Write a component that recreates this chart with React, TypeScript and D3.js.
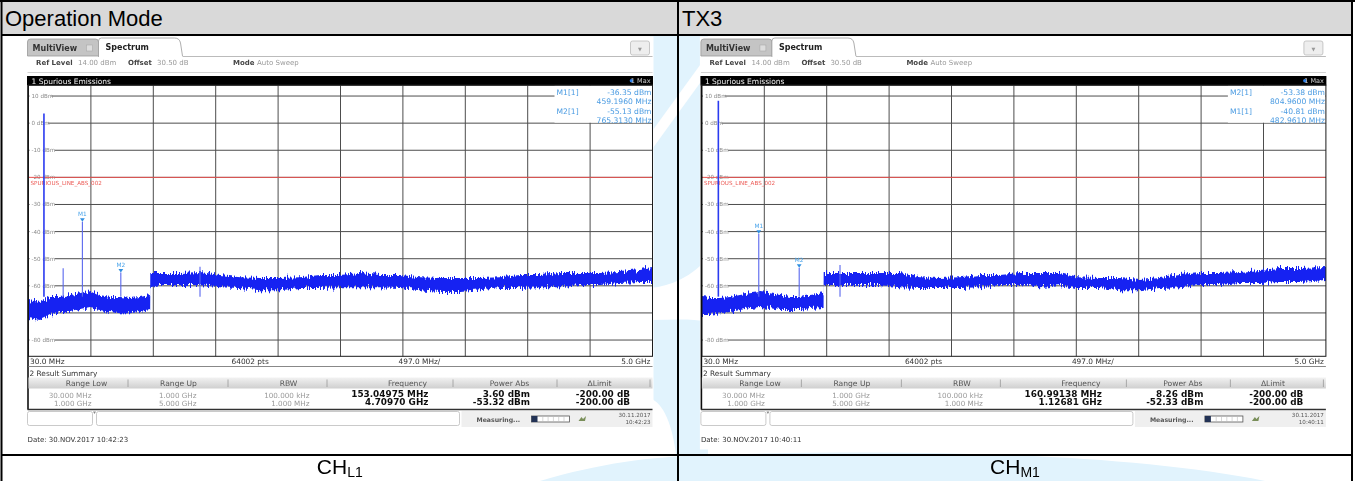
import React from 'react';
import * as d3 from 'd3';

const W = 1355;
const H = 481;

// ---- sweep settings shared by both measurements ----
const sweepStartMHz = 30;
const sweepStopMHz = 5000;
const sweepPoints = 64002;
const refLevelDbm = 14;
const bottomDbm = -86;
const xDivisions = 10;
const gridDbm = [10, 0, -10, -20, -30, -40, -50, -60, -70, -80];
const gridLabelDbm = [10, 0, -10, -20, -30, -40, -50, -60, -80];
const limitDbm = -20;
const limitName = 'SPURIOUS_LINE_ABS_002';
const summaryColumns = ['Range Low', 'Range Up', 'RBW', 'Frequency', 'Power Abs', 'ΔLimit'];

// ---- CH L1 trace envelope (MHz, dBm) ----
const chL1Freq = [30, 122, 201, 281, 361, 440, 520, 599, 679, 759, 838, 918, 999,
  1000, 1077, 1237, 1396, 1555, 1715, 1874, 2033, 2193, 2352, 2511, 2671, 2830, 2989, 3148,
  3308, 3467, 3626, 3786, 3945, 4104, 4264, 4423, 4582, 4741, 4900, 5000];
const chL1Upper = [-65.2, -66.0, -64.1, -64.1, -63.4, -62.7, -61.6, -63.4, -64.1, -64.1, -64.5, -64.1, -63.4,
  -55.3, -55.3, -55.3, -54.9, -56.0, -56.8, -57.1, -57.1, -56.8, -56.0, -56.0, -55.3, -56.0, -56.0, -56.8,
  -57.1, -57.1, -57.1, -56.8, -56.0, -56.0, -55.3, -55.3, -55.3, -54.9, -54.2, -53.4];
const chL1Lower = [-71.9, -72.6, -70.8, -69.7, -69.7, -68.9, -68.2, -68.9, -69.7, -70.1, -70.1, -69.7, -68.9,
  -60.5, -59.7, -59.7, -59.7, -60.5, -60.8, -61.6, -61.6, -60.8, -60.8, -60.5, -60.5, -60.5, -60.8, -61.6,
  -62.3, -62.3, -61.6, -60.8, -60.8, -60.5, -60.5, -59.7, -59.7, -59.0, -58.6, -58.6];
const chL1Spikes = [
  { f: 153.05, dbm: 3.6 },
  { f: 306, dbm: -53.5 },
  { f: 459.196, dbm: -36.35 },
  { f: 765.313, dbm: -55.13 },
  { f: 1396, dbm: -53.0 },
];
const chL1Markers = [
  { name: 'M1', f: 459.196, dbm: -36.35 },
  { name: 'M2', f: 765.313, dbm: -55.13 },
];
const chL1Readout = ['M1', 'M2'];
const chL1Summary = [
  ['30.000 MHz', '1.000 GHz', '100.000 kHz', '153.04975 MHz', '3.60 dBm', '-200.00 dB'],
  ['1.000 GHz', '5.000 GHz', '1.000 MHz', '4.70970 GHz', '-53.32 dBm', '-200.00 dB'],
];

// ---- CH M1 trace envelope (MHz, dBm) ----
const chM1Freq = [30, 95, 174, 254, 333, 413, 493, 572, 652, 732, 811, 891, 999,
  1000, 1130, 1288, 1447, 1606, 1766, 1925, 2084, 2244, 2403, 2562, 2721, 2881, 3008,
  3199, 3358, 3518, 3677, 3836, 3996, 4155, 4314, 4474, 4633, 4792, 5000];
const chM1Upper = [-64.1, -64.5, -64.5, -64.1, -63.4, -62.7, -62.3, -62.7, -63.4, -64.1, -64.1, -63.4, -62.7,
  -55.3, -55.3, -55.3, -55.3, -55.3, -56.8, -57.1, -56.8, -56.0, -56.0, -55.3, -55.3, -55.3, -56.8,
  -57.1, -57.1, -57.9, -57.1, -56.0, -55.3, -55.3, -54.9, -54.2, -53.4, -53.4, -53.1];
const chM1Lower = [-70.8, -70.8, -70.1, -69.7, -68.9, -68.2, -67.8, -68.2, -68.9, -68.9, -68.9, -68.2, -67.8,
  -59.7, -59.7, -59.7, -59.7, -60.5, -60.8, -60.8, -60.8, -60.5, -59.7, -59.7, -60.5, -59.7, -60.8,
  -60.8, -61.6, -61.6, -60.8, -60.5, -59.7, -59.7, -59.0, -59.0, -58.6, -58.6, -57.9];
const chM1Spikes = [
  { f: 160.99, dbm: 8.26 },
  { f: 482.961, dbm: -40.81 },
  { f: 804.96, dbm: -53.38 },
  { f: 1130, dbm: -52.3 },
];
const chM1Markers = [
  { name: 'M1', f: 482.961, dbm: -40.81 },
  { name: 'M2', f: 804.96, dbm: -53.38 },
];
const chM1Readout = ['M2', 'M1'];
const chM1Summary = [
  ['30.000 MHz', '1.000 GHz', '100.000 kHz', '160.99138 MHz', '8.26 dBm', '-200.00 dB'],
  ['1.000 GHz', '5.000 GHz', '1.000 MHz', '1.12681 GHz', '-52.33 dBm', '-200.00 dB'],
];

type Spike = { f: number; dbm: number };
type Marker = { name: string; f: number; dbm: number };

interface SweepProps {
  ox: number;
  freq: number[];
  upper: number[];
  lower: number[];
  spikes: Spike[];
  markers: Marker[];
  readout: string[];
  rows: string[][];
  dateText: string;
  clockDate: string;
  clockTime: string;
}

const PLOT_W = 624;
const PLOT_TOP = 85.2;
const PLOT_BOTTOM = 356.3;
const SCREEN_FONT = 'DejaVu Sans, Verdana, sans-serif';
const TABLE_FONT = 'Liberation Sans, Arial, sans-serif';

function Sweep(p: SweepProps) {
  const { ox } = p;
  const right = ox + PLOT_W;
  const x = d3.scaleLinear().domain([sweepStartMHz, sweepStopMHz]).range([ox, right]);
  const y = d3.scaleLinear().domain([refLevelDbm, bottomDbm]).range([PLOT_TOP, PLOT_BOTTOM]);
  const idx = d3.range(p.freq.length);
  const band = d3
    .area<number>()
    .x((i) => x(p.freq[i]))
    .y0((i) => y(p.lower[i]))
    .y1((i) => y(p.upper[i]))(idx) as string;
  const step = (sweepStopMHz - sweepStartMHz) / xDivisions;
  const vTicks = d3.range(1, xDivisions).map((k) => sweepStartMHz + k * step);
  const grid = '#4d4d4d';
  const sepOffsets = [99.5, 199.5, 298.5, 424.5, 528.5, 621.5];
  const headCenters = [58, 150, 260, 379, 481, 571];
  const valueRights = [63, 168, 281, 400, 501.5, 601.5];
  const byName = new Map(p.markers.map((m) => [m.name, m]));

  return (
    <g fontFamily={SCREEN_FONT} filter="url(#soft)">
      <rect x={ox - 2} y={36.5} width={PLOT_W + 3} height={413} fill="#fff" />

      {/* tab strip */}
      <path
        d={`M${ox - 1},56 L${ox - 1},42 Q${ox - 1},39 ${ox + 2},39 L${ox + 67},39 Q${ox + 70},39 ${ox + 70},42 L${ox + 70},56 Z`}
        fill="#c4c4c4"
        stroke="#999"
        strokeWidth={0.8}
      />
      <text x={ox + 4} y={51} fontSize={8} fontWeight="bold" fill="#333">MultiView</text>
      <rect x={ox + 58} y={45} width={6} height={6} fill="#ddd" stroke="#aaa" strokeWidth={0.6} />
      <path
        d={`M${ox + 70},57 L${ox + 70},41 Q${ox + 70},38 ${ox + 73},38 L${ox + 146},38 Q${ox + 151},38 ${ox + 152},43 L${ox + 154},56`}
        fill="#fff"
        stroke="#999"
        strokeWidth={0.8}
      />
      <text x={ox + 77} y={50} fontSize={8} fontWeight="bold" fill="#222">Spectrum</text>
      <line x1={ox + 154} x2={right} y1={56.5} y2={56.5} stroke="#aaa" strokeWidth={0.8} />
      <rect x={ox + 602} y={41} width={19} height={14} rx={2} fill="#eee" stroke="#bbb" strokeWidth={0.8} />
      <text x={ox + 611.5} y={50.5} fontSize={5} fill="#999" textAnchor="middle">▼</text>
      <line x1={ox - 1} x2={right} y1={72.5} y2={72.5} stroke="#c8c8c8" strokeWidth={0.8} />

      {/* setup line */}
      <g fontSize={7}>
        <text x={ox + 7.5} y={65} fontWeight="bold" fill="#444">Ref Level</text>
        <text x={ox + 49.5} y={65} fill="#999">14.00 dBm</text>
        <text x={ox + 99.5} y={65} fontWeight="bold" fill="#444">Offset</text>
        <text x={ox + 128.5} y={65} fill="#999">30.50 dB</text>
        <text x={ox + 204.5} y={65} fontWeight="bold" fill="#444">Mode</text>
        <text x={ox + 228.5} y={65} fill="#999">Auto Sweep</text>
      </g>

      {/* title bar */}
      <rect x={ox - 1.5} y={76} width={PLOT_W + 2} height={9.5} fill="#050505" />
      <text x={ox + 3} y={83.5} fontSize={7.5} fill="#eee">1 Spurious Emissions</text>
      <circle cx={ox + 603} cy={80.7} r={1.8} fill="#2f7fe6" />
      <text x={ox + 622} y={83.3} fontSize={6.5} fill="#ccc" textAnchor="end">1 Max</text>

      {/* horizontal grid */}
      {gridDbm.map((v) => (
        <line key={`h${v}`} x1={ox} x2={right} y1={y(v)} y2={y(v)} stroke={grid} strokeWidth={1} />
      ))}
      {/* vertical grid */}
      {vTicks.map((f) => (
        <line key={`v${f}`} x1={x(f)} x2={x(f)} y1={PLOT_TOP} y2={PLOT_BOTTOM} stroke={grid} strokeWidth={1} />
      ))}

      {/* level labels */}
      {gridLabelDbm.map((v) => {
        const label = `${v} dBm`;
        const w = label.length * 3.3 + 2;
        return (
          <g key={`l${v}`}>
            <rect x={ox + 1} y={y(v) - 3} width={w} height={6} fill="#fff" />
            <text x={ox + 3} y={y(v) + 2} fontSize={5.6} fill="#8a8a8a">{label}</text>
          </g>
        );
      })}

      {/* limit line */}
      <line x1={ox} x2={right} y1={y(limitDbm)} y2={y(limitDbm)} stroke="#e8534f" strokeWidth={1} />
      <text x={ox + 2} y={y(limitDbm) + 7.5} fontSize={5.6} fill="#ec5a55">{limitName}</text>

      {/* trace */}
      <g filter="url(#jag)">
        <path d={band} fill="#1224f2" />
      </g>
      {p.spikes.map((s, i) => (
        <line
          key={`s${i}`}
          x1={x(s.f)}
          x2={x(s.f)}
          y1={y(s.dbm)}
          y2={y(-64)}
          stroke={i === 0 ? '#2a3af0' : '#5866ee'}
          strokeWidth={i === 0 ? 1.6 : 1.1}
        />
      ))}

      {/* markers */}
      {p.markers.map((m) => {
        const mx = x(m.f);
        const my = y(m.dbm);
        return (
          <g key={m.name}>
            <path d={`M${mx - 2.4},${my - 3.5} L${mx + 2.4},${my - 3.5} L${mx},${my} Z`} fill="#2f8fe0" />
            <text x={mx} y={my - 5.5} fontSize={5.8} fill="#49a3ea" textAnchor="middle">{m.name}</text>
          </g>
        );
      })}

      {/* marker readout */}
      <rect x={ox + 526} y={PLOT_TOP + 0.5} width={PLOT_W - 526.5} height={37} fill="#fff" />
      {p.readout.map((name, i) => {
        const m = byName.get(name)!;
        const base = 94.5 + i * 19;
        return (
          <g key={`r${name}`} fontSize={7.6} fill="#4a9be2">
            <text x={ox + 528} y={base}>{`${m.name}[1]`}</text>
            <text x={right - 1} y={base} textAnchor="end">{`${m.dbm.toFixed(2)} dBm`}</text>
            <text x={right - 1} y={base + 9.3} textAnchor="end">{`${m.f.toFixed(4)} MHz`}</text>
          </g>
        );
      })}

      {/* plot frame */}
      <rect x={ox} y={PLOT_TOP} width={PLOT_W} height={PLOT_BOTTOM - PLOT_TOP} fill="none" stroke="#1a1a1a" strokeWidth={1} />
      <line x1={ox - 0.5} x2={ox - 0.5} y1={PLOT_TOP} y2={409.5} stroke="#111" strokeWidth={1.6} />

      {/* frequency axis line */}
      <g fontSize={7.4} fill="#333">
        <text x={ox + 1.5} y={364}>{`${sweepStartMHz.toFixed(1)} MHz`}</text>
        <text x={ox + 203} y={364}>{`${sweepPoints} pts`}</text>
        <text x={ox + 370} y={364}>{`${step.toFixed(1)} MHz/`}</text>
        <text x={right - 2} y={364} textAnchor="end">{`${(sweepStopMHz / 1000).toFixed(1)} GHz`}</text>
      </g>
      <line x1={ox} x2={right} y1={366.5} y2={366.5} stroke="#888" strokeWidth={1} />

      {/* result summary */}
      <text x={ox + 1} y={375.5} fontSize={7.4} fill="#333">2 Result Summary</text>
      <defs>
        <linearGradient id={`hdr${ox}`} x1="0" x2="0" y1="0" y2="1">
          <stop offset="0" stopColor="#f2f2f2" />
          <stop offset="1" stopColor="#cfcfcf" />
        </linearGradient>
      </defs>
      <rect x={ox} y={377.5} width={PLOT_W} height={11} fill={`url(#hdr${ox})`} />
      {sepOffsets.map((s) => (
        <line key={`sep${s}`} x1={ox + s} x2={ox + s} y1={379.5} y2={387} stroke="#999" strokeWidth={0.8} />
      ))}
      {summaryColumns.map((c, i) => (
        <text key={c} x={ox + headCenters[i]} y={386} fontSize={7.6} fill="#555" textAnchor="middle">{c}</text>
      ))}
      {p.rows.map((row, r) =>
        row.map((v, c) => {
          const bold = c >= 3;
          return (
            <text
              key={`${r}-${c}`}
              x={ox + valueRights[c]}
              y={(bold ? 397.2 : 397.8) + r * 8}
              textAnchor="end"
              fontSize={bold ? 8.9 : 7.2}
              fontWeight={bold ? 'bold' : 'normal'}
              fill={bold ? '#111' : '#9a9a9a'}
            >
              {v}
            </text>
          );
        })
      )}
      <line x1={ox - 1} x2={right} y1={409.5} y2={409.5} stroke="#333" strokeWidth={1.4} />

      {/* status bar */}
      <rect x={ox - 1} y={411.5} width={65} height={14} rx={2} fill="#fff" stroke="#bdbdbd" strokeWidth={0.8} />
      <path d={`M${ox + 64.5},411.5 L${ox + 67.5},411.5 L${ox + 66},414 Z`} fill="#888" />
      <rect x={ox + 68} y={411.5} width={363} height={14} rx={2} fill="#fff" stroke="#bdbdbd" strokeWidth={0.8} />
      <rect x={ox + 433} y={411} width={PLOT_W - 433} height={16} fill="#efefef" />
      <text x={ox + 448} y={421.5} fontSize={6.2} fontWeight="bold" fill="#555">Measuring...</text>
      <rect x={ox + 503} y={416} width={38} height={6} fill="#fff" stroke="#555" strokeWidth={0.8} />
      <rect x={ox + 503} y={416} width={6} height={6} fill="#223355" />
      {d3.range(1, 6).map((k) => (
        <line key={`pb${k}`} x1={ox + 509 + k * 5.3} x2={ox + 509 + k * 5.3} y1={416.5} y2={421.5} stroke="#bbb" strokeWidth={0.6} />
      ))}
      <path d={`M${ox + 550},421 l3,-4 l1.5,2 l3,-3 l-1,5 z`} fill="#7a8f5a" />
      <text x={right - 2} y={416.5} fontSize={5.6} fill="#555" textAnchor="end">{p.clockDate}</text>
      <text x={right - 2} y={424} fontSize={5.6} fill="#555" textAnchor="end">{p.clockTime}</text>

      <text x={ox - 1} y={441.5} fontSize={7} fill="#333">{p.dateText}</text>
    </g>
  );
}

function Caption({ cx, main, sub }: { cx: number; main: string; sub: string }) {
  return (
    <text x={cx} y={474} textAnchor="middle" fontFamily={TABLE_FONT} fill="#000">
      <tspan fontSize={21}>{main}</tspan>
      <tspan fontSize={14} dy={3}>{sub}</tspan>
    </text>
  );
}

export default function App() {
  const left = 1.5;
  const rightEdge = 1352;
  const divider = 678;
  const headerBottom = 35;
  const captionTop = 455;

  return (
    <div style={{ position: 'absolute', left: 0, top: 0, width: W, height: H, background: '#fff' }}>
      <svg width={W} height={H} viewBox={`0 0 ${W} ${H}`} style={{ display: 'block' }}>
        <defs>
          <filter id="soft" x="-1%" y="-1%" width="102%" height="102%">
            <feGaussianBlur stdDeviation="0.35" />
          </filter>
          <filter id="jag" x="-1%" y="-30%" width="102%" height="160%">
            <feTurbulence type="fractalNoise" baseFrequency="0.95 0.05" numOctaves={2} seed={7} result="n" />
            <feColorMatrix
              in="n"
              type="matrix"
              values="0 0 0 0 0.5  0 1 0 0 0  0 0 1 0 0  0 0 0 0 1"
              result="m"
            />
            <feDisplacementMap in="SourceGraphic" in2="m" scale={10} xChannelSelector="R" yChannelSelector="G" />
          </filter>
        </defs>

        <rect x={0} y={0} width={W} height={H} fill="#fff" />

        {/* header row */}
        <rect x={left} y={1} width={rightEdge - left} height={headerBottom - 1} fill="#d9d9d9" />
        <text x={5} y={26} fontSize={22} fontFamily={TABLE_FONT} fill="#000">Operation Mode</text>
        <text x={divider + 4} y={26} fontSize={22} fontFamily={TABLE_FONT} fill="#000">TX3</text>

        {/* background logo */}
        <g fill="#e1f3fd">
          <rect x={650} y={36} width={58} height={captionTop - 36} />
          <path d="M540,481 C600,463 650,457 705,455 C900,449 1120,452 1265,481 Z" />
        </g>
        <g fill="#fff">
          <path d="M708,54 L708,72 L650,152 L650,134 Z" />
          <path d="M650,288 C672,286 692,276 708,258 L708,322 C690,318 670,320 650,320 Z" />
          <path d="M650,398 C664,404 672,424 676,455 L650,455 Z" />
        </g>

        <Sweep
          ox={28.5}
          freq={chL1Freq}
          upper={chL1Upper}
          lower={chL1Lower}
          spikes={chL1Spikes}
          markers={chL1Markers}
          readout={chL1Readout}
          rows={chL1Summary}
          dateText="Date: 30.NOV.2017  10:42:23"
          clockDate="30.11.2017"
          clockTime="10:42:23"
        />
        <Sweep
          ox={701.9}
          freq={chM1Freq}
          upper={chM1Upper}
          lower={chM1Lower}
          spikes={chM1Spikes}
          markers={chM1Markers}
          readout={chM1Readout}
          rows={chM1Summary}
          dateText="Date: 30.NOV.2017  10:40:11"
          clockDate="30.11.2017"
          clockTime="10:40:11"
        />

        {/* captions */}
        <Caption cx={(left + divider) / 2} main="CH" sub="L1" />
        <Caption cx={(divider + rightEdge) / 2} main="CH" sub="M1" />

        {/* table rules */}
        <g stroke="#000" strokeWidth={2}>
          <line x1={0} x2={W} y1={1} y2={1} />
          <line x1={left} x2={left} y1={0} y2={H} />
          <line x1={rightEdge} x2={rightEdge} y1={0} y2={H} />
          <line x1={left} x2={rightEdge} y1={headerBottom} y2={headerBottom} />
          <line x1={divider} x2={divider} y1={0} y2={H} />
          <line x1={left} x2={rightEdge} y1={captionTop} y2={captionTop} />
        </g>
      </svg>
    </div>
  );
}
